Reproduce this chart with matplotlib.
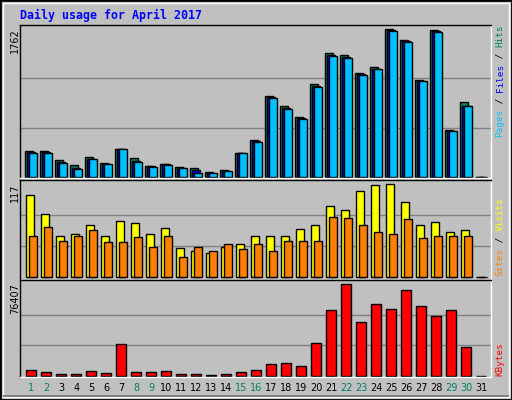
import matplotlib
matplotlib.use("Agg")
import matplotlib.pyplot as plt
from matplotlib.patches import Rectangle
import numpy as np

days = list(range(1, 32))
hits = [307, 307, 199, 140, 235, 163, 331, 223, 128, 151, 116, 104, 56, 80, 283, 438, 961, 841, 714, 1104, 1479, 1451, 1240, 1312, 1762, 1634, 1156, 1755, 558, 893, 0]
files = [291, 295, 175, 108, 215, 155, 327, 183, 124, 147, 108, 80, 48, 72, 279, 426, 949, 821, 702, 1084, 1455, 1431, 1228, 1292, 1750, 1622, 1148, 1739, 546, 845, 0]
pages = [285, 289, 165, 92, 207, 150, 327, 180, 120, 143, 104, 48, 40, 64, 279, 420, 941, 813, 694, 1076, 1447, 1423, 1220, 1284, 1742, 1614, 1140, 1731, 542, 841, 0]
visits = [104, 79, 52, 54, 66, 52, 70, 68, 54, 61, 36, 33, 30, 37, 42, 52, 52, 52, 60, 66, 90, 85, 108, 116, 117, 94, 66, 69, 57, 59, 0]
sites = [51, 63, 45, 52, 59, 44, 44, 50, 37, 51, 25, 38, 32, 41, 35, 42, 33, 45, 45, 45, 75, 74, 66, 57, 54, 73, 49, 52, 51, 52, 0]
kbytes = [5300, 3600, 2000, 2000, 4500, 2800, 27000, 3600, 3600, 4500, 2000, 2000, 1100, 2000, 3600, 5300, 10300, 11150, 8600, 27900, 54650, 76407, 44600, 59700, 55500, 71400, 58000, 49600, 54650, 24500, 0]
weekend = [1, 2, 8, 9, 15, 16, 22, 23, 29, 30]
title = "Daily usage for April 2017"

W, H = 512, 400
BG = "#c0c0c0"
fig = plt.figure(figsize=(W / 100, H / 100), dpi=100, facecolor=BG)

def fx(x): return x / W
def fy(y): return 1 - y / H

# outer border
fig.patches.append(Rectangle((0, 0), 1, 1, transform=fig.transFigure, fill=False, ec="black", lw=2))
fig.patches.append(Rectangle((fx(3), fy(397)), fx(506), 394 / H, transform=fig.transFigure, fill=False, ec="white", lw=1))
fig.patches.append(Rectangle((fx(3), fy(397)), fx(506), 2 / H, transform=fig.transFigure, color="#808080", lw=0))

x = np.array(days, dtype=float)
L, R = 20, 491

def mkax(top, bot, ymax, ymin):
    ax = fig.add_axes([fx(L), fy(bot), (R - L) / W, (bot - top) / H])
    ax.set_facecolor(BG)
    ax.set_xlim(0.25, 31.65)
    ax.set_ylim(ymin, ymax)
    ax.set_xticks([]); ax.set_yticks([])
    for s in ax.spines.values():
        s.set_color("black"); s.set_linewidth(1)
    ax.spines["bottom"].set_color("white")
    ax.spines["right"].set_color("white")
    return ax

mono = "DejaVu Sans Mono"

# top panel
ax1 = mkax(25, 178, 1813, -15.5)
for g in (1762 / 3, 1762 * 2 / 3):
    ax1.axhline(g, color="#808080", lw=1, zorder=0)
ax1.bar(x - 0.13, hits, width=0.55, color="#008060", ec="black", lw=1)
ax1.bar(x - 0.02, files, width=0.5, color="#0000ff", ec="black", lw=1)
ax1.bar(x + 0.1, pages, width=0.5, color="#00c0ff", ec="black", lw=1)

# middle panel
ax2 = mkax(180, 280, 122.4, -4.2)
for g in (39, 78):
    ax2.axhline(g, color="#808080", lw=1, zorder=0)
ax2.bar(x - 0.09, visits, width=0.57, color="#ffff00", ec="black", lw=1)
ax2.bar(x + 0.11, sites, width=0.5, color="#ff8000", ec="black", lw=1)

# bottom panel
ax3 = mkax(280, 377, 80000, -836)
for g in (76407 / 3, 76407 * 2 / 3):
    ax3.axhline(g, color="#808080", lw=1, zorder=0)
ax3.bar(x, kbytes, width=0.67, color="#ff0000", ec="black", lw=1)

# title
fig.text(fx(20), fy(15), title, color="#0000ff", fontsize=8.4, fontweight="bold", family=mono, va="center", ha="left")

# left max labels
for lab, y in (("1762", 28), ("117", 183), ("76407", 283)):
    fig.text(fx(15), fy(y), lab, rotation=90, fontsize=7, family="DejaVu Sans", va="top", ha="center")

# right legend labels
def stack(parts, ybot, cw=5.6):
    pos = 0
    for txt, col in parts:
        fig.text(fx(500), fy(ybot - pos * cw), txt, rotation=90, color=col, fontsize=6.7,
                 family=mono, va="bottom", ha="center")
        pos += len(txt)

stack([("Pages", "#00c0ff"), (" / ", "black"), ("Files", "#0000ff"), (" / ", "black"), ("Hits", "#008060")], 137)
stack([("Sites", "#ff8000"), (" / ", "black"), ("Visits", "#ffff00")], 276)
stack([("KBytes", "#ff0000")], 376)

# day labels
for d in days:
    px = 20 + (d - 0.25) * (471 / 31.4)
    col = "#008060" if d in weekend else "black"
    fig.text(fx(px), fy(388), str(d), color=col, fontsize=7, ha="center", va="center")

fig.savefig("out.png", dpi=100, facecolor=BG)
